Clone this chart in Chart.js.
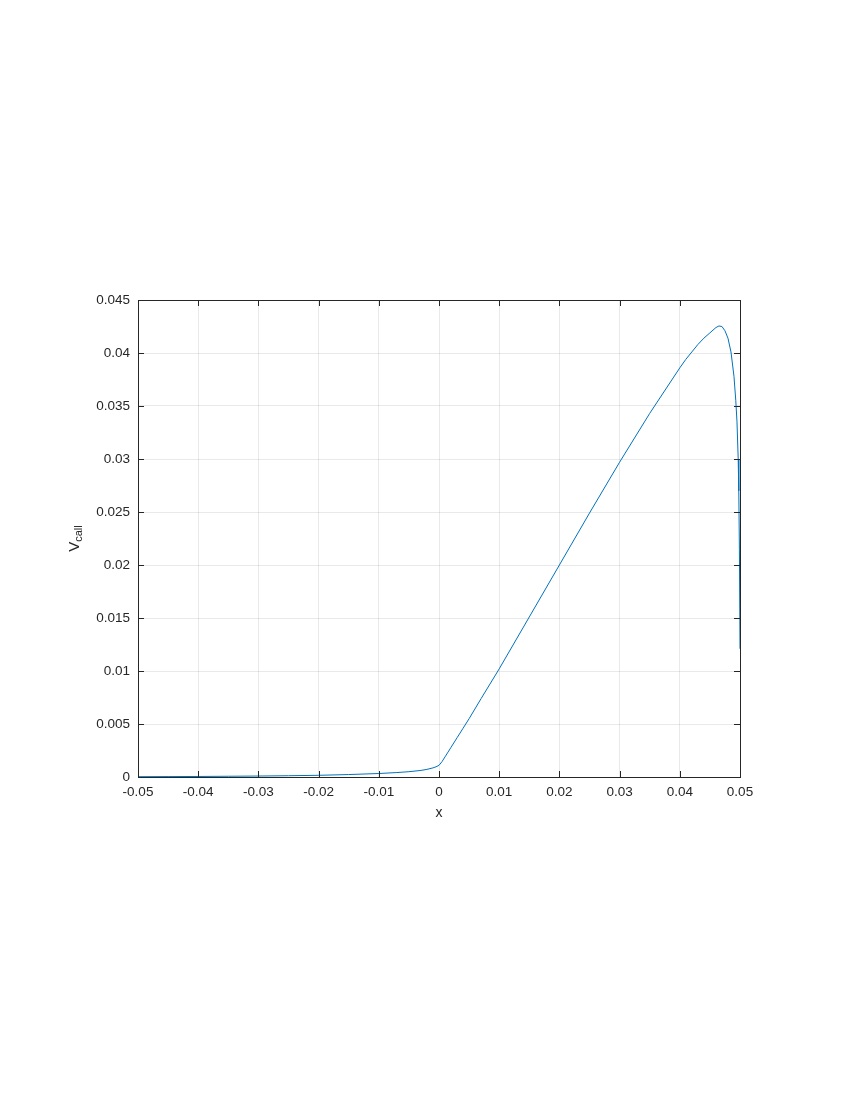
<!DOCTYPE html>
<html>
<head>
<meta charset="utf-8">
<script src="https://cdn.jsdelivr.net/npm/chart.js@4/dist/chart.umd.min.js"></script>
<style>
  html, body { margin: 0; padding: 0; background: #ffffff; }
  #wrap { position: absolute; left: 0; top: 0; width: 850px; height: 1100px; }
</style>
</head>
<body>
<div id="wrap"><canvas id="c" width="850" height="1100"></canvas></div>
<script>
// ---- data ----
const xValues = [
  -0.05, -0.045, -0.04, -0.035, -0.03, -0.025, -0.02, -0.015, -0.01, -0.007,
  -0.005, -0.003, -0.002, -0.001, -0.0005, 0, 0.0005, 0.001, 0.0015, 0.002,
  0.003, 0.004, 0.005, 0.007, 0.01, 0.015, 0.02, 0.025, 0.03, 0.035,
  0.04, 0.041, 0.042, 0.043, 0.044, 0.045, 0.046, 0.0465, 0.047, 0.0475,
  0.048, 0.0485, 0.049, 0.0493, 0.0495, 0.0497, 0.0498, 0.0499, 0.05
];
const vCall = [
  0.00003, 0.00004, 0.00005, 0.00007, 0.00009, 0.00012, 0.00016, 0.00023, 0.00033, 0.00042,
  0.00050, 0.00062, 0.00072, 0.00086, 0.00096, 0.00110, 0.00145, 0.0019, 0.00235, 0.0028,
  0.0037, 0.0046, 0.0055, 0.0074, 0.0102, 0.0151, 0.0200, 0.0249, 0.0297, 0.0343,
  0.0386, 0.0394, 0.0401, 0.0408, 0.0414, 0.0419, 0.0424, 0.04255, 0.0425, 0.0421,
  0.0414, 0.0401, 0.0378, 0.0355, 0.0335, 0.0300, 0.0270, 0.0215, 0.0121
];
const xTicks = [-0.05, -0.04, -0.03, -0.02, -0.01, 0, 0.01, 0.02, 0.03, 0.04, 0.05];
const yTicks = [0, 0.005, 0.01, 0.015, 0.02, 0.025, 0.03, 0.035, 0.04, 0.045];
const xTickLabels = ['-0.05', '-0.04', '-0.03', '-0.02', '-0.01', '0', '0.01', '0.02', '0.03', '0.04', '0.05'];
const yTickLabels = ['0', '0.005', '0.01', '0.015', '0.02', '0.025', '0.03', '0.035', '0.04', '0.045'];
const xLabel = 'x';
const yLabelMain = 'V';
const yLabelSub = 'call';

// ---- styling ----
const AXIS_COLOR = '#262626';
const GRID_COLOR = 'rgba(38,38,38,0.1)';
const LINE_COLOR = '#0072BD';
const FONT = '"Liberation Sans", Arial, Helvetica, sans-serif';

const points = xValues.map((x, i) => ({ x: x, y: vCall[i] }));

const boxPlugin = {
  id: 'matlabBox',
  afterDraw(chart) {
    const ctx = chart.ctx;
    const a = chart.chartArea;
    const xs = chart.scales.x, ys = chart.scales.y;
    ctx.save();
    // inward tick marks on all four sides
    ctx.strokeStyle = AXIS_COLOR;
    ctx.lineWidth = 1;
    const tl = 6;
    ctx.beginPath();
    xTicks.forEach(v => {
      const px = Math.round(xs.getPixelForValue(v)) + 0.5;
      ctx.moveTo(px, a.bottom); ctx.lineTo(px, a.bottom - tl);
      ctx.moveTo(px, a.top); ctx.lineTo(px, a.top + tl);
    });
    yTicks.forEach(v => {
      const py = Math.round(ys.getPixelForValue(v)) + 0.5;
      ctx.moveTo(a.left, py); ctx.lineTo(a.left + tl, py);
      ctx.moveTo(a.right, py); ctx.lineTo(a.right - tl, py);
    });
    ctx.stroke();
    // box
    ctx.strokeRect(Math.round(a.left) + 0.5, Math.round(a.top) + 0.5,
                   Math.round(a.right - a.left), Math.round(a.bottom - a.top));
    // x label
    ctx.fillStyle = AXIS_COLOR;
    ctx.font = '14px ' + FONT;
    ctx.textAlign = 'center';
    ctx.textBaseline = 'alphabetic';
    ctx.fillText(xLabel, (a.left + a.right) / 2, a.bottom + 40);
    // y label with subscript, rotated
    const cy = (a.top + a.bottom) / 2;
    ctx.translate(a.left - 59, cy);
    ctx.rotate(-Math.PI / 2);
    ctx.textAlign = 'left';
    ctx.font = '15px ' + FONT;
    const w1 = ctx.measureText(yLabelMain).width;
    ctx.font = '11px ' + FONT;
    const w2 = ctx.measureText(yLabelSub).width;
    const start = -(w1 + w2) / 2;
    ctx.font = '15px ' + FONT;
    ctx.fillText(yLabelMain, start, 0);
    ctx.font = '11px ' + FONT;
    ctx.fillText(yLabelSub, start + w1, 3);
    ctx.restore();
  }
};

new Chart(document.getElementById('c'), {
  type: 'line',
  data: {
    datasets: [{
      data: points,
      borderColor: LINE_COLOR,
      borderWidth: 1,
      pointRadius: 0,
      tension: 0,
      fill: false
    }]
  },
  options: {
    responsive: false,
    animation: false,
    events: [],
    plugins: { legend: { display: false }, tooltip: { enabled: false } },
    layout: { padding: { left: 0, top: 300, right: 110, bottom: 283 } },
    scales: {
      x: {
        type: 'linear',
        min: -0.05, max: 0.05,
        afterBuildTicks(scale) { scale.ticks = xTicks.map(v => ({ value: v })); },
        afterFit(scale) { scale.height = 40; },
        grid: { color: GRID_COLOR, drawTicks: false, lineWidth: 1 },
        border: { display: true, color: AXIS_COLOR },
        ticks: {
          color: AXIS_COLOR,
          font: { family: FONT, size: 13.5 },
          padding: 7,
          maxRotation: 0,
          autoSkip: false,
          callback: (v) => { const i = xTicks.findIndex(t => Math.abs(t - v) < 1e-9); return i >= 0 ? xTickLabels[i] : ''; }
        }
      },
      y: {
        type: 'linear',
        min: 0, max: 0.045,
        afterBuildTicks(scale) { scale.ticks = yTicks.map(v => ({ value: v })); },
        afterFit(scale) { scale.width = 138; },
        grid: { color: GRID_COLOR, drawTicks: false, lineWidth: 1 },
        border: { display: true, color: AXIS_COLOR },
        ticks: {
          color: AXIS_COLOR,
          font: { family: FONT, size: 13.5 },
          padding: 8,
          autoSkip: false,
          callback: (v) => { const i = yTicks.findIndex(t => Math.abs(t - v) < 1e-9); return i >= 0 ? yTickLabels[i] : ''; }
        }
      }
    }
  },
  plugins: [boxPlugin]
});
</script>
</body>
</html>
